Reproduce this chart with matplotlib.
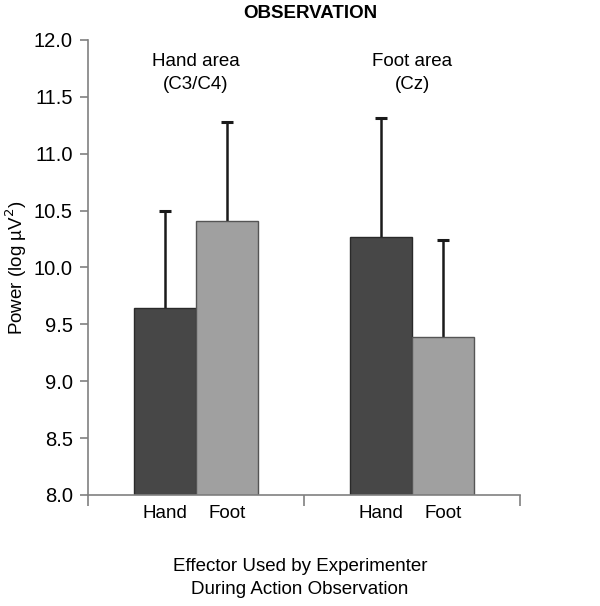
import matplotlib
matplotlib.use("Agg")
import matplotlib.pyplot as plt
import numpy as np

plt.rcParams['font.family'] = ['Liberation Sans', 'DejaVu Sans']

areas = ["Hand area\n(C3/C4)", "Foot area\n(Cz)"]
effectors = ["Hand", "Foot"]
hand_vals = [9.64, 10.27]
foot_vals = [10.41, 9.39]
hand_err = [0.86, 1.04]
foot_err = [0.87, 0.85]
yticks = [8.0, 8.5, 9.0, 9.5, 10.0, 10.5, 11.0, 11.5, 12.0]

fig = plt.figure(figsize=(6.0, 6.06), dpi=100)
ax = fig.add_axes([0.1467, 0.1832, 0.72, 0.7508])

x = np.arange(len(areas))
w = 0.287
base = 8.0
hv = np.array(hand_vals); fv = np.array(foot_vals)
ax.bar(x - w/2, hv - base, w, bottom=base, color='#474747',
       edgecolor='#2a2a2a', linewidth=1.0, zorder=2)
ax.bar(x + w/2, fv - base, w, bottom=base, color='#a0a0a0',
       edgecolor='#555555', linewidth=1.0, zorder=2)

for xs, vals, errs in [(x - w/2, hv, np.array(hand_err)), (x + w/2, fv, np.array(foot_err))]:
    ax.vlines(xs, vals, vals + errs, color='#1a1a1a', linewidth=1.8, zorder=1)
    ax.plot(xs, vals + errs, linestyle='none', marker='_', markersize=8,
            markeredgewidth=2.2, color='#1a1a1a', zorder=1)

ax.set_xlim(-0.5, 1.5)
ax.set_ylim(8.0, 12.0)
ax.set_yticks(yticks)
ax.set_yticklabels([f"{v:.1f}" for v in yticks], fontsize=14.5)

ax.set_xticks([-0.5, 0.5, 1.5])
ax.set_xticklabels([])
ax.tick_params(axis='x', direction='out', length=8, color='#808080', width=1.2)
ax.tick_params(axis='y', direction='out', length=6, color='#808080', width=1.2, pad=5)

for xi in x:
    ax.text(xi - w/2, -0.022, effectors[0], transform=ax.get_xaxis_transform(),
            ha='center', va='top', fontsize=13.5)
    ax.text(xi + w/2, -0.022, effectors[1], transform=ax.get_xaxis_transform(),
            ha='center', va='top', fontsize=13.5)

for xi, lab in zip(x, areas):
    ax.text(xi, 11.885, lab, ha='center', va='top', fontsize=13.5, linespacing=1.45)

for s in ['top', 'right']:
    ax.spines[s].set_visible(False)
for s in ['left', 'bottom']:
    ax.spines[s].set_color('#808080')
    ax.spines[s].set_linewidth(1.2)

fig.text(16 / 600, (606 - 268) / 606, "Power (log µV$^2$)", rotation=90,
         ha='center', va='center', fontsize=13.5)
fig.text(0.5, (606 - 578) / 606, "Effector Used by Experimenter\nDuring Action Observation",
         ha='center', va='center', fontsize=13.5, linespacing=1.45)
fig.text(0.517, 0.978, "OBSERVATION", ha='center', va='center', fontsize=13.5,
         fontweight='bold')

fig.savefig("out.png", dpi=100)
